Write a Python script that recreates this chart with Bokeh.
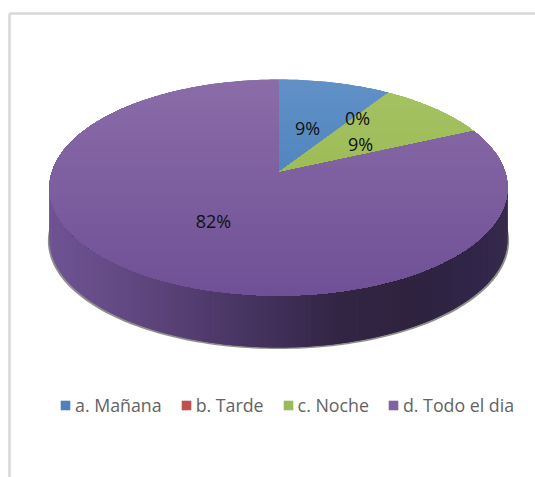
import numpy as np
from bokeh.embed import file_html
from bokeh.resources import INLINE
from bokeh.plotting import figure
from bokeh.models import Legend, LegendItem, Range1d
from bokeh.core.properties import value

categories = ["a. Mañana", "b. Tarde", "c. Noche", "d. Todo el dia"]
shares = [9.1, 0.0, 9.1, 81.8]
labels = ["9%", "0%", "9%", "82%"]
colors = ["#4f81bd", "#c0504d", "#9bbb59", "#8064a2"]
top_grad = [("#6090c6", "#3f76b5"), ("#c0504d", "#c0504d"), ("#a6c264", "#90b445"), ("#8a6ca8", "#6f5096")]
side_stops_x = [49, 110, 180, 270, 340, 420, 480, 507]
side_stops_c = ["#6f5394", "#654b86", "#573f74", "#41305a", "#322543", "#2e2340", "#31264a", "#372b4c"]

W, H = 535, 477
CX, CY, A, B, K, DEPTH = 278.0, 172.0, 226.8, 105.9, 0.139, 52.0
label_xy = [(307, 127), (357, 117), (360, 143), (213, 220)]


def rim(t):
    X, Y = np.sin(t), np.cos(t)
    w = 1 + K * Y
    return CX + A * X / w, CY - B * Y / w


def hex2rgb(c):
    return np.array([int(c[i:i + 2], 16) for i in (1, 3, 5)], float)


def mix(c0, c1, f):
    v = hex2rgb(c0) * (1 - f) + hex2rgb(c1) * f
    return "#%02x%02x%02x" % tuple(int(round(a)) for a in v)


def clip_below(xs, ys, y0):
    ox, oy = [], []
    n = len(xs)
    for i in range(n):
        x1, y1, x2, y2 = xs[i], ys[i], xs[(i + 1) % n], ys[(i + 1) % n]
        if y1 >= y0:
            ox.append(x1); oy.append(y1)
        if (y1 >= y0) != (y2 >= y0):
            f = (y0 - y1) / (y2 - y1)
            ox.append(x1 + f * (x2 - x1)); oy.append(y0)
    return ox, oy


p = figure(width=W, height=H, output_backend="svg", toolbar_location=None,
           x_range=Range1d(0, W), y_range=Range1d(H, 0), min_border=0,
           background_fill_color="white", border_fill_color="white")
p.axis.visible = False
p.grid.visible = False
p.outline_line_color = None

# chart frame
p.line([9, 9], [13, H], line_color="#d9d9d9", line_width=2.5)
p.line([9, W], [13, 13], line_color="#d9d9d9", line_width=2.5)

# soft edge under the side wall
tt = np.radians(np.linspace(78, 282, 161))
rx, ry = rim(tt)
p.patch(list(np.r_[rx + np.sign(rx - CX) * 1.6, rx[::-1]]), list(np.r_[ry + DEPTH + 1.5, ry[::-1]]),
        fill_color="#5e6058", fill_alpha=0.7, line_color=None)

# side wall, strips along the front rim
tt = np.radians(np.linspace(78, 282, 205))
rx, ry = rim(tt)
for i in range(len(tt) - 1):
    xm = 0.5 * (rx[i] + rx[i + 1])
    j = min(np.searchsorted(side_stops_x, xm), len(side_stops_x) - 1)
    j = max(j, 1)
    f = np.clip((xm - side_stops_x[j - 1]) / (side_stops_x[j] - side_stops_x[j - 1]), 0, 1)
    col = mix(side_stops_c[j - 1], side_stops_c[j], f)
    e = min(i + 2, len(tt) - 1)
    xs = [rx[i], rx[e], rx[e], rx[i]]
    ys = [ry[i], ry[e], ry[e] + DEPTH, ry[i] + DEPTH]
    p.patch(xs, ys, fill_color=col, line_color=None)

# top face, slices from the shares
edges = np.cumsum([0.0] + shares) / sum(shares) * 2 * np.pi
legend_items = []
y_top, y_bot = CY - B / (1 + K), CY + B / (1 - K)
band_y = np.arange(y_top - 1, y_bot + 1, 4.0)
for i, cat in enumerate(categories):
    a0, a1 = edges[i], edges[i + 1]
    n = max(2, int(np.degrees(a1 - a0)))
    t = np.linspace(a0, a1, n)
    sx, sy = rim(t)
    xs = [CX] + list(sx)
    ys = [CY] + list(sy)
    r = p.patch(xs, ys, fill_color=colors[i], line_color=None)
    legend_items.append(LegendItem(label=cat, renderers=[r]))
    if a1 - a0 < 1e-6:
        continue
    c0, c1 = top_grad[i]
    for y0 in band_y:
        cx_, cy_ = clip_below(xs, ys, y0)
        if len(cx_) < 3:
            continue
        f = (y0 - y_top) / (y_bot - y_top)
        p.patch(cx_, cy_, fill_color=mix(c0, c1, float(np.clip(f, 0, 1))), line_color=None)

# data labels
p.text([q[0] for q in label_xy], [q[1] for q in label_xy], text=labels,
       text_font=value("Open Sans"), text_font_size="18px", text_color="#111111",
       text_align="center", text_baseline="middle")

legend = Legend(items=legend_items, orientation="horizontal", location=(59, 60),
                background_fill_alpha=0, border_line_color=None,
                padding=0, margin=0, spacing=18, glyph_width=12, glyph_height=12,
                label_standoff=4, label_text_font="Open Sans", label_text_font_size="17.8px",
                label_text_color="#636363", label_height=12)
p.add_layout(legend, "center")

open("out.html", "w").write(file_html(p, INLINE))
